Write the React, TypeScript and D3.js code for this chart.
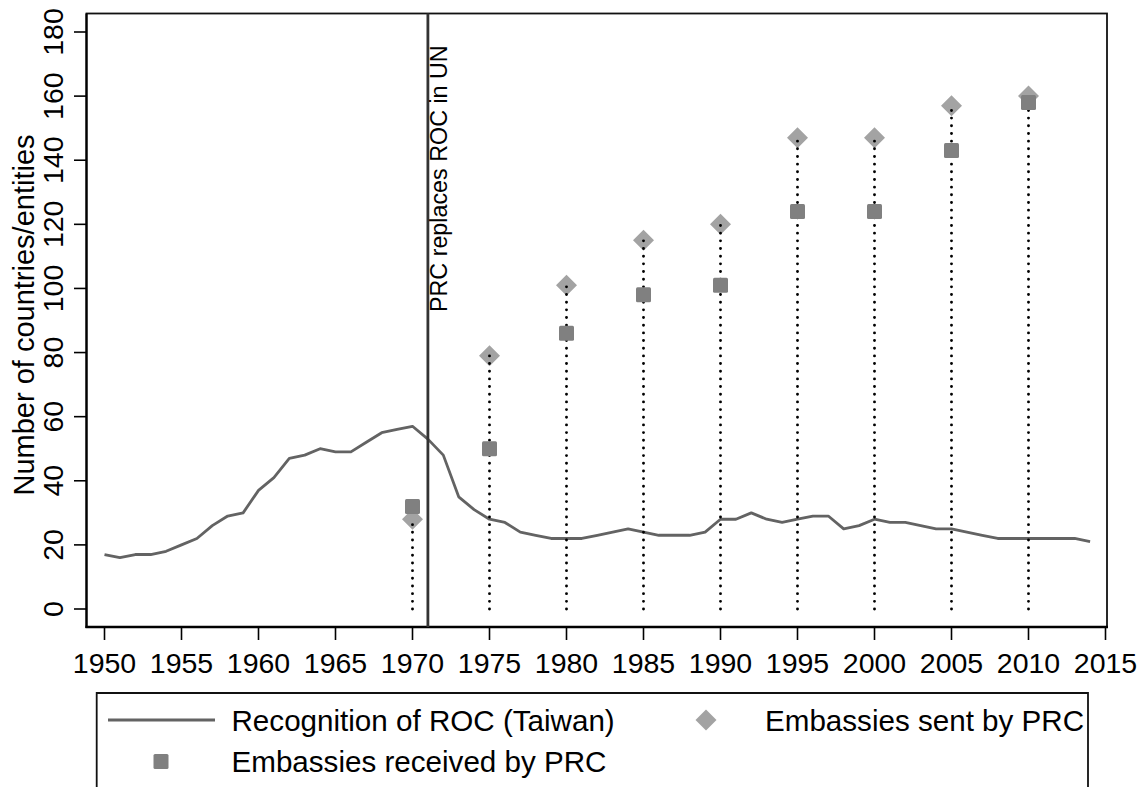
import React from "react";
import * as d3 from "d3";

const rocYears = d3.range(1950, 2015);
const rocRecognition = [
  17, 16, 17, 17, 18, 20, 22, 26, 29, 30,
  37, 41, 47, 48, 50, 49, 49, 52, 55, 56,
  57, 53, 48, 35, 31, 28, 27, 24, 23, 22,
  22, 22, 23, 24, 25, 24, 23, 23, 23, 24,
  28, 28, 30, 28, 27, 28, 29, 29, 25, 26,
  28, 27, 27, 26, 25, 25, 24, 23, 22, 22,
  22, 22, 22, 22, 21,
];
const prcYears = [1970, 1975, 1980, 1985, 1990, 1995, 2000, 2005, 2010];
const embassiesReceived = [32, 50, 86, 98, 101, 124, 124, 143, 158];
const embassiesSent = [28, 79, 101, 115, 120, 147, 147, 157, 160];
const xTicks = d3.range(1950, 2016, 5);
const yTicks = d3.range(0, 181, 20);
const unYear = 1971;
const legendLabels = [
  "Recognition of ROC (Taiwan)",
  "Embassies sent by PRC",
  "Embassies received by PRC",
];

const W = 1148;
const H = 787;
const FONT = "'Liberation Sans', Arial, Helvetica, sans-serif";
const LINE_COLOR = "#636363";
const SQUARE_COLOR = "#808080";
const DIAMOND_COLOR = "#a3a3a3";

export default function App() {
  const x = d3.scaleLinear().domain([1950, 2015]).range([104.5, 1105.5]);
  const y = d3.scaleLinear().domain([0, 180]).range([609, 32]);
  const frame = { left: 86.5, right: 1107, top: 13.5, bottom: 627 };

  const line = d3
    .line<number>()
    .x((_, i) => x(rocYears[i]))
    .y((d) => y(d));

  const sq = 15;
  const dia = 10.5;
  const diamondPath = (cx: number, cy: number) =>
    `M${cx},${cy - dia}L${cx + dia},${cy}L${cx},${cy + dia}L${cx - dia},${cy}Z`;

  return (
    <svg
      width={W}
      height={H}
      style={{ position: "absolute", left: 0, top: 0, background: "#fff" }}
      fontFamily={FONT}
    >
      <rect x={0} y={0} width={W} height={H} fill="#fff" />
      {/* frame */}
      <rect
        x={frame.left}
        y={frame.top}
        width={frame.right - frame.left}
        height={frame.bottom - frame.top}
        fill="none"
        stroke="#111"
        strokeWidth={1.8}
      />
      <line x1={frame.left} x2={frame.left} y1={frame.top} y2={frame.bottom + 1} stroke="#000" strokeWidth={2.2} />
      <line x1={frame.left - 1} x2={frame.right + 1} y1={frame.bottom} y2={frame.bottom} stroke="#000" strokeWidth={2.4} />

      {/* x axis ticks & labels */}
      {xTicks.map((t) => (
        <g key={"x" + t}>
          <line x1={x(t)} x2={x(t)} y1={frame.bottom} y2={640} stroke="#000" strokeWidth={1.6} />
          <text x={x(t)} y={672.5} textAnchor="middle" fontSize={28.5} fill="#000">
            {t}
          </text>
        </g>
      ))}

      {/* y axis ticks & labels */}
      {yTicks.map((t) => (
        <g key={"y" + t}>
          <line x1={74} x2={frame.left} y1={y(t)} y2={y(t)} stroke="#000" strokeWidth={1.6} />
          <text
            transform={`translate(62.5,${y(t)}) rotate(-90)`}
            textAnchor="middle"
            fontSize={28.5}
            fill="#000"
          >
            {t}
          </text>
        </g>
      ))}
      <text
        transform={`translate(33.5,315) rotate(-90)`}
        textAnchor="middle"
        fontSize={29}
        fill="#000"
      >
        Number of countries/entities
      </text>

      {/* ROC line */}
      <path d={line(rocRecognition) || ""} fill="none" stroke={LINE_COLOR} strokeWidth={2.8} strokeLinejoin="round" />

      {/* diamonds: embassies sent */}
      {prcYears.map((yr, i) => (
        <path key={"d" + yr} d={diamondPath(x(yr), y(embassiesSent[i]))} fill={DIAMOND_COLOR} />
      ))}

      {/* dotted drop lines */}
      {prcYears.map((yr, i) => (
        <line
          key={"s" + yr}
          x1={x(yr)}
          x2={x(yr)}
          y1={y(0)}
          y2={y(embassiesSent[i])}
          stroke="#000"
          strokeWidth={2.9}
          strokeLinecap="round"
          strokeDasharray="0 7.67"
        />
      ))}

      {/* squares: embassies received */}
      {prcYears.map((yr, i) => (
        <rect
          key={"r" + yr}
          x={x(yr) - sq / 2}
          y={y(embassiesReceived[i]) - sq / 2}
          width={sq}
          height={sq}
          rx={1.5}
          fill={SQUARE_COLOR}
        />
      ))}

      {/* UN line */}
      <line x1={x(unYear)} x2={x(unYear)} y1={frame.top} y2={frame.bottom} stroke="#333" strokeWidth={2.8} />
      <text
        transform={`translate(447,312) rotate(-90)`}
        textAnchor="start"
        fontSize={23.3}
        fill="#000"
      >
        PRC replaces ROC in UN
      </text>

      {/* legend */}
      <path d={`M96.7,800V693H1088V800`} fill="none" stroke="#111" strokeWidth={1.8} />
      <line x1={108} x2={215} y1={720} y2={720} stroke={LINE_COLOR} strokeWidth={2.8} />
      <text x={231.5} y={730.5} fontSize={29.6} fill="#000">
        {legendLabels[0]}
      </text>
      <path d={diamondPath(706, 720)} fill={DIAMOND_COLOR} />
      <text x={765} y={730.5} fontSize={29.6} fill="#000">
        {legendLabels[1]}
      </text>
      <rect x={161 - sq / 2} y={761.5 - sq / 2} width={sq} height={sq} rx={1.5} fill={SQUARE_COLOR} />
      <text x={231.5} y={771.5} fontSize={29.6} fill="#000">
        {legendLabels[2]}
      </text>
    </svg>
  );
}
